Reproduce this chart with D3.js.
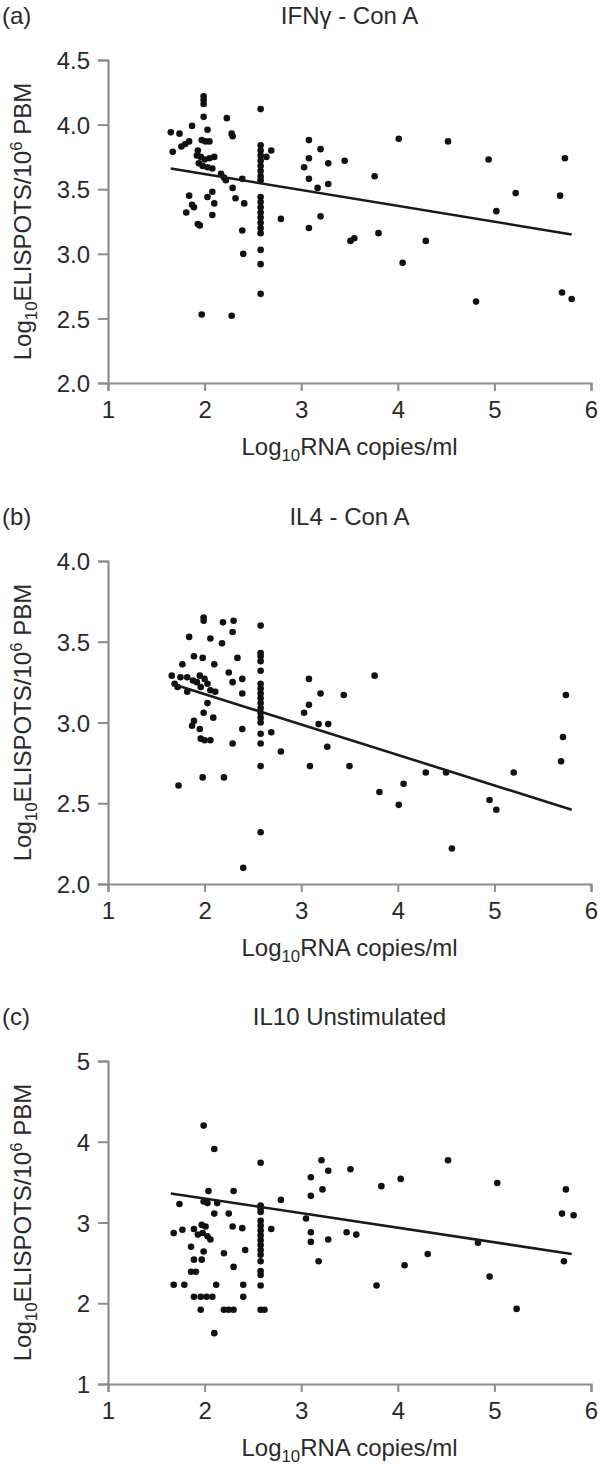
<!DOCTYPE html>
<html><head><meta charset="utf-8">
<script src="https://cdn.jsdelivr.net/npm/d3@7"></script>
<style>
html,body{margin:0;padding:0;background:#fff;}
svg text{font-family:"Liberation Sans",Arial,sans-serif;fill:#2a2a2a;}
</style></head>
<body><svg id="chart" width="600" height="1473"></svg>
<script>
// ---------- DATA ----------
const xTicks = [1, 2, 3, 4, 5, 6];
const panelLetters = ["(a)", "(b)", "(c)"];
const panelTitles = ["IFN\u03b3 - Con A", "IL4 - Con A", "IL10 Unstimulated"];
const yDomains = [[2.0, 4.5], [2.0, 4.0], [1, 5]];
const yTickSets = [[2.0, 2.5, 3.0, 3.5, 4.0, 4.5], [2.0, 2.5, 3.0, 3.5, 4.0], [1, 2, 3, 4, 5]];

const ifnPoints = [
[1.65,3.94],[1.74,3.93],[1.67,3.79],[1.76,3.83],[1.80,3.85],[1.84,3.87],[1.87,3.99],
[1.84,3.45],[1.81,3.32],[1.87,3.38],[1.89,3.36],[1.93,3.23],[1.95,3.22],
[1.99,4.22],[1.99,4.19],[1.99,4.16],[1.99,4.06],[2.03,3.96],
[1.97,3.88],[2.01,3.87],[2.05,3.87],[1.93,3.80],[1.92,3.76],[1.96,3.75],[2.00,3.73],[2.05,3.74],[2.10,3.75],[1.94,3.70],[1.98,3.68],[2.03,3.67],[2.08,3.66],
[2.08,3.48],[2.03,3.44],[2.10,3.39],[2.08,3.30],
[2.17,3.62],[2.20,3.59],[2.22,3.57],[2.29,3.51],[2.39,3.58],[2.23,4.05],[2.28,3.93],[2.29,3.91],
[2.32,3.43],[2.41,3.39],[2.39,3.18],[2.40,3.00],
[1.97,2.53],[2.28,2.52],
[2.58,4.12],[2.58,3.84],[2.58,3.80],[2.58,3.76],[2.58,3.72],[2.58,3.68],[2.58,3.64],[2.58,3.60],[2.58,3.57],
[2.58,3.44],[2.58,3.40],[2.58,3.36],[2.58,3.32],[2.58,3.28],[2.58,3.24],[2.58,3.20],[2.58,3.16],
[2.58,3.03],[2.58,2.92],[2.58,2.69],
[2.69,3.80],[2.64,3.75],[2.79,3.27],
[3.08,3.88],[3.20,3.81],[3.08,3.74],[3.03,3.67],[3.28,3.70],[3.45,3.72],[3.08,3.58],[3.17,3.51],[3.28,3.54],
[3.20,3.29],[3.08,3.20],[3.76,3.60],[4.01,3.89],[4.52,3.87],[4.94,3.73],[5.73,3.74],[5.22,3.47],[5.68,3.45],
[5.02,3.33],[3.51,3.10],[3.55,3.12],[3.80,3.16],[4.29,3.10],[4.05,2.93],[4.81,2.63],[5.70,2.70],[5.80,2.65]
];

const il4Points = [
[1.99,3.65],[1.99,3.63],[1.84,3.53],[2.06,3.52],[2.19,3.62],[2.30,3.63],[2.29,3.56],[2.18,3.49],
[1.89,3.41],[1.98,3.40],[1.77,3.36],[2.10,3.36],[2.34,3.40],[2.25,3.31],
[1.66,3.29],[1.69,3.24],[1.75,3.28],[1.82,3.28],[1.88,3.26],[1.92,3.25],[1.96,3.22],[2.00,3.27],[2.03,3.24],[2.06,3.20],[1.95,3.29],[1.72,3.22],
[1.82,3.19],[2.11,3.19],[2.29,3.25],[2.39,3.27],[2.39,3.18],[2.03,3.12],[1.99,3.06],[2.09,3.03],[1.89,3.01],[1.87,2.98],
[1.95,2.96],[1.96,2.90],[2.00,2.89],[2.06,2.89],[2.39,2.96],[2.29,2.87],[1.73,2.61],[1.98,2.66],[2.20,2.66],[2.40,2.10],
[2.58,3.60],[2.58,3.43],[2.58,3.41],[2.58,3.38],[2.58,3.32],[2.58,3.24],[2.58,3.21],[2.58,3.18],[2.58,3.15],
[2.58,3.12],[2.58,3.09],[2.58,3.06],[2.58,3.03],[2.58,3.00],[2.58,2.93],[2.58,2.87],[2.58,2.73],[2.58,2.32],
[2.69,2.94],[2.79,2.82],
[3.08,3.27],[3.20,3.18],[3.08,3.11],[3.03,3.06],[3.18,2.99],[3.28,2.99],[3.44,3.17],[3.27,2.85],[3.09,2.73],
[3.50,2.73],[3.76,3.29],[3.81,2.57],[4.01,2.49],[4.06,2.62],[4.29,2.69],[4.50,2.69],[4.56,2.22],[4.95,2.52],
[5.02,2.46],[5.20,2.69],[5.69,2.76],[5.71,2.91],[5.74,3.17]
];

const il10Points = [
[1.99,4.20],[2.10,3.91],[2.04,3.39],[2.30,3.39],[1.74,3.23],[1.99,3.26],[2.03,3.24],[2.13,3.24],[2.10,3.11],[2.25,3.11],
[1.68,2.87],[1.77,2.91],[1.89,2.92],[1.97,2.97],[2.01,2.95],[1.93,2.85],[1.98,2.87],[2.03,2.83],[2.06,2.79],[2.29,2.95],[2.39,2.93],
[1.86,2.70],[1.99,2.64],[1.97,2.54],[1.89,2.54],[2.20,2.62],[2.42,2.66],[2.30,2.45],[1.86,2.39],[1.91,2.39],
[1.68,2.23],[1.79,2.23],[2.12,2.23],[2.40,2.23],[1.89,2.08],[1.96,2.08],[2.02,2.08],[2.08,2.08],[2.40,2.08],
[1.96,1.92],[2.20,1.92],[2.25,1.92],[2.30,1.92],[2.10,1.63],
[2.58,3.74],[2.58,3.21],[2.58,3.17],[2.58,3.13],[2.58,3.02],[2.58,2.96],[2.58,2.90],[2.58,2.84],[2.58,2.78],
[2.58,2.72],[2.58,2.66],[2.58,2.60],[2.58,2.52],[2.58,2.40],[2.58,2.35],[2.58,2.22],[2.58,1.92],[2.62,1.92],
[2.69,2.92],[2.79,3.28],
[3.21,3.77],[3.28,3.64],[3.10,3.56],[3.22,3.41],[3.10,3.33],[3.51,3.66],[3.05,3.05],[3.10,2.88],[3.10,2.76],
[3.28,2.79],[3.47,2.88],[3.57,2.85],[3.18,2.52],[3.83,3.45],[4.03,3.54],[3.78,2.22],[4.07,2.47],[4.31,2.61],
[4.52,3.77],[4.83,2.75],[4.95,2.33],[5.03,3.49],[5.23,1.93],[5.74,3.41],[5.70,3.11],[5.82,3.09],[5.72,2.52]
];

// fitted regression lines (endpoints)
const ifnFit  = [[1.65, 3.66], [5.80, 3.15]];
const il4Fit  = [[1.66, 3.24], [5.80, 2.46]];
const il10Fit = [[1.65, 3.36], [5.80, 2.61]];

const panelPoints = [ifnPoints, il4Points, il10Points];
const panelFits = [ifnFit, il4Fit, il10Fit];
const yFormats = [".1f", ".1f", "d"];

// ---------- LAYOUT ----------
const svg = d3.select("#chart");
const plotLeft = 108, plotRight = 591;
const plotTops = [60, 561, 1061];
const plotH = 323;
const FS = 24;
const axisColor = "#8c8c8c";

panelPoints.forEach((pts, i) => {
  const top = plotTops[i], bottom = top + plotH;
  const x = d3.scaleLinear().domain([1, 6]).range([plotLeft, plotRight]);
  const y = d3.scaleLinear().domain(yDomains[i]).range([bottom, top]);
  const g = svg.append("g");

  // panel letter and title
  g.append("text").attr("x", 2).attr("y", top - 36).attr("font-size", FS).text(panelLetters[i]);
  g.append("text").attr("x", (plotLeft + plotRight) / 2).attr("y", top - 36)
    .attr("text-anchor", "middle").attr("font-size", FS).text(panelTitles[i]);

  // axes
  const xa = g.append("g").attr("transform", `translate(0,${bottom})`)
    .call(d3.axisBottom(x).tickValues(xTicks).tickFormat(d3.format("d")).tickSizeOuter(0).tickSize(8).tickPadding(10));
  const ya = g.append("g").attr("transform", `translate(${plotLeft},0)`)
    .call(d3.axisLeft(y).tickValues(yTickSets[i]).tickFormat(d3.format(yFormats[i])).tickSizeOuter(0).tickSize(10).tickPadding(8));
  [xa, ya].forEach(a => {
    a.select(".domain").attr("stroke", axisColor).attr("stroke-width", 2.2);
    a.selectAll(".tick line").attr("stroke", axisColor).attr("stroke-width", 2);
    a.selectAll(".tick text").attr("font-size", FS).attr("font-family", "Liberation Sans, Arial, sans-serif").attr("fill", "#2a2a2a");
  });
  ya.selectAll(".tick text").attr("dy", "0.36em");

  // x axis label
  const xl = g.append("text").attr("x", (plotLeft + plotRight) / 2).attr("y", bottom + 72)
    .attr("text-anchor", "middle").attr("font-size", FS);
  xl.append("tspan").text("Log");
  xl.append("tspan").attr("font-size", FS * 0.7).attr("dy", 6).text("10");
  xl.append("tspan").attr("dy", -6).text("RNA copies/ml");

  // y axis label
  const yl = g.append("text").attr("transform", `translate(31,${(top + bottom) / 2}) rotate(-90)`)
    .attr("text-anchor", "middle").attr("font-size", FS);
  yl.append("tspan").text("Log");
  yl.append("tspan").attr("font-size", FS * 0.7).attr("dy", 6).text("10");
  yl.append("tspan").attr("dy", -6).text("ELISPOTS/10");
  yl.append("tspan").attr("font-size", FS * 0.7).attr("dy", -9).text("6");
  yl.append("tspan").attr("dy", 9).text(" PBM");

  // points
  g.append("g").selectAll("circle").data(pts).join("circle")
    .attr("cx", d => x(d[0])).attr("cy", d => y(d[1])).attr("r", 3.3).attr("fill", "#111");

  // regression line
  g.append("path").datum(panelFits[i])
    .attr("d", d3.line().x(d => x(d[0])).y(d => y(d[1])))
    .attr("stroke", "#1a1a1a").attr("stroke-width", 2.6).attr("fill", "none");
});
</script>
</body></html>
